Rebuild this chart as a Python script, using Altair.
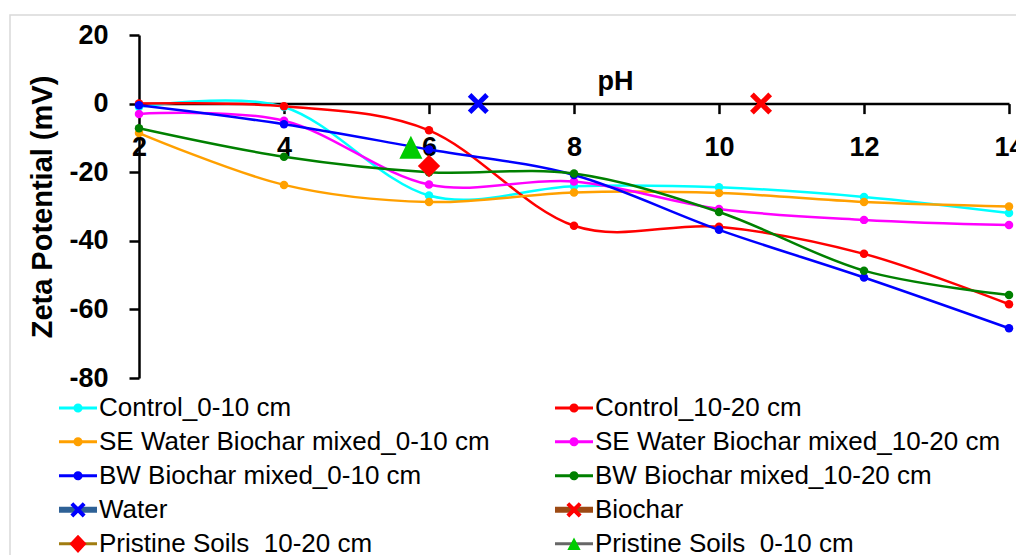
import altair as alt
import pandas as pd

# ---------------- data ----------------
ph = [2, 4, 6, 8, 10, 12, 14]
control_0_10 = [-1.0, -1.0, -26.8, -24.1, -24.4, -27.2, -31.9]
control_10_20 = [0.0, -0.8, -7.8, -35.6, -35.9, -43.8, -58.5]
se_0_10 = [-8.6, -23.7, -28.7, -25.9, -26.1, -28.7, -30.0]
se_10_20 = [-3.0, -5.0, -23.6, -22.7, -30.7, -33.9, -35.4]
bw_0_10 = [-0.5, -6.0, -13.4, -20.8, -36.8, -50.7, -65.5]
bw_10_20 = [-7.2, -15.5, -20.0, -20.4, -31.6, -48.7, -55.8]

series_names = [
    "Control_0-10 cm",
    "Control_10-20 cm",
    "SE Water Biochar mixed_0-10 cm",
    "SE Water Biochar mixed_10-20 cm",
    "BW Biochar mixed_0-10 cm",
    "BW Biochar mixed_10-20 cm",
]
series_colors = ["#00FFFF", "#FF0000", "#FFA000", "#FF00FF", "#0000FF", "#008000"]

water_ph = [6.68]
water_zeta = [0.0]
biochar_ph = [10.58]
biochar_zeta = [0.0]
pristine_10_20_ph = [6.0]
pristine_10_20_zeta = [-18.2]
pristine_0_10_ph = [5.75]
pristine_0_10_zeta = [-12.7]

# legend entries, listed column by column (left column first)
legend_names = [
    "Control_0-10 cm",
    "SE Water Biochar mixed_0-10 cm",
    "BW Biochar mixed_0-10 cm",
    "Water",
    "Pristine Soils_10-20 cm",
    "Control_10-20 cm",
    "SE Water Biochar mixed_10-20 cm",
    "BW Biochar mixed_10-20 cm",
    "Biochar",
    "Pristine Soils_0-10 cm",
]
legend_line_colors = ["#00FFFF", "#FFA000", "#0000FF", "#2E6196", "#A07C10",
                      "#FF0000", "#FF00FF", "#008000", "#9C4A14", "#676767"]
legend_line_widths = [3, 3, 3, 6, 3, 3, 3, 3, 6, 3]
legend_marker_colors = ["#00FFFF", "#FFA000", "#0000FF", "#0000FF", "#FF0000",
                        "#FF0000", "#FF00FF", "#008000", "#FF0000", "#00CC00"]
legend_marker_kinds = ["circle", "circle", "circle", "x", "diamond",
                       "circle", "circle", "circle", "x", "triangle"]

# ---------------- shapes ----------------
U = 19.0 / 18.0  # legend symbols: nominal 36 px box, drawn 38 px wide


def x_path(a, d):
    pts = [(-a, -a + d), (-a + d, -a), (0, -d), (a - d, -a), (a, -a + d), (d, 0),
           (a, a - d), (a - d, a), (0, d), (-a + d, a), (-a, a - d), (-d, 0)]
    return "M" + "L".join(f"{px:.3f},{py:.3f}" for px, py in pts) + "Z"


def circle_path(r):
    return f"M{-r:.3f},0A{r:.3f},{r:.3f} 0 1,0 {r:.3f},0A{r:.3f},{r:.3f} 0 1,0 {-r:.3f},0Z"


SPAN = f"M{-U:.4f},0L{U:.4f},0"
legend_shape_paths = {
    "circle": circle_path(0.24 * U),
    "x": x_path(0.40 * U, 0.15 * U),
    "diamond": f"M0,{-0.48 * U:.3f}L{0.45 * U:.3f},0L0,{0.48 * U:.3f}L{-0.45 * U:.3f},0Z",
    "triangle": f"M0,{-0.33 * U:.3f}L{0.35 * U:.3f},{0.33 * U:.3f}L{-0.35 * U:.3f},{0.33 * U:.3f}Z",
}
legend_marker_paths = [SPAN + legend_shape_paths[k] for k in legend_marker_kinds]

X_MARK = x_path(1.0, 0.34)
TRI_MARK = "M0,-1L1,1L-1,1Z"

FONT = "Liberation Sans"

# ---------------- tables ----------------
rows = []
for name, vals in zip(series_names, [control_0_10, control_10_20, se_0_10, se_10_20, bw_0_10, bw_10_20]):
    for p, v in zip(ph, vals):
        rows.append({"series": name, "ph": p, "zeta": v})
df = pd.DataFrame(rows)

legend_df = pd.DataFrame({"name": legend_names, "lname": [n + " " for n in legend_names]})

# ---------------- scales / axes ----------------
x_axis = alt.Axis(
    values=ph, orient="bottom", offset=-274.4, title="pH", grid=False,
    domainColor="black", domainWidth=2.5, tickColor="black", tickWidth=2.5, tickSize=10,
    labelFont=FONT, labelFontSize=27, labelFontWeight="bold", labelColor="black",
    labelPadding=21, labelFlush=False, labelOverlap=False,
    titleFont=FONT, titleFontSize=27, titleFontWeight="bold", titleColor="black",
    titleX=476, titleY=-14, titleAlign="center", titleBaseline="alphabetic",
)
y_axis = alt.Axis(
    values=[-80, -60, -40, -20, 0, 20], title="Zeta Potential (mV)", grid=False,
    domainColor="black", domainWidth=2.5, tickColor="black", tickWidth=2.5, tickSize=10,
    labelFont=FONT, labelFontSize=27, labelFontWeight="bold", labelColor="black",
    labelPadding=21, labelFlush=False, labelOverlap=False, labelExpr="'' + datum.value",
    titleFont=FONT, titleFontSize=29, titleFontWeight="bold", titleColor="black",
    titlePadding=11,
)
X = alt.X("ph:Q", scale=alt.Scale(domain=[2, 14], nice=False, zero=False), axis=x_axis)
Y = alt.Y("zeta:Q", scale=alt.Scale(domain=[-80, 20], nice=False, zero=False), axis=y_axis)
color = alt.Color("series:N", scale=alt.Scale(domain=series_names, range=series_colors), legend=None)

legend_common = dict(
    orient="none", legendX=-82, legendY=356, columns=2, columnPadding=63, rowPadding=0,
    clipHeight=33.6, symbolSize=1296, symbolOffset=0, labelFont=FONT, labelFontSize=26,
    labelColor="black", labelLimit=700, labelOffset=0, title=None, padding=0,
)

# ---------------- layers ----------------
border = alt.Chart(alt.Data(values=[{"k": 1}])).mark_rect(
    fillOpacity=0, stroke="#D9D9D9", strokeWidth=1.5
).encode(x=alt.value(-129), x2=alt.value(900), y=alt.value(-20), y2=alt.value(560))

lines = alt.Chart(df).mark_line(interpolate="cardinal", strokeWidth=2.5).encode(x=X, y=Y, color=color)
points = alt.Chart(df).mark_circle(size=72, opacity=1).encode(x=X, y=Y, color=color)

water = alt.Chart(pd.DataFrame({"ph": water_ph, "zeta": water_zeta})).mark_point(
    shape=X_MARK, filled=True, size=441, color="#0000FF", opacity=1, strokeWidth=0
).encode(x=X, y=Y)
biochar = alt.Chart(pd.DataFrame({"ph": biochar_ph, "zeta": biochar_zeta})).mark_point(
    shape=X_MARK, filled=True, size=484, color="#FF0000", opacity=1, strokeWidth=0
).encode(x=X, y=Y)
pristine_a = alt.Chart(pd.DataFrame({"ph": pristine_10_20_ph, "zeta": pristine_10_20_zeta})).mark_point(
    shape="diamond", filled=True, size=500, color="#FF0000", opacity=1, strokeWidth=0
).encode(x=X, y=Y)
pristine_b = alt.Chart(pd.DataFrame({"ph": pristine_0_10_ph, "zeta": pristine_0_10_zeta})).mark_point(
    shape=TRI_MARK, filled=True, size=529, color="#00CC00", opacity=1, strokeWidth=0
).encode(x=X, y=Y)

legend_a_props = dict(legend_common, labelOpacity=0, labelExpr="trim(datum.label)")
legend_b_props = dict(legend_common, symbolStrokeColor="transparent", symbolStrokeWidth=6)
leg_lines = alt.Chart(legend_df).transform_filter("false").mark_point(
    shape=SPAN, filled=False, opacity=1
).encode(
    stroke=alt.Stroke("lname:N", scale=alt.Scale(domain=list(legend_df["lname"]), range=legend_line_colors),
                      legend=alt.Legend(**legend_a_props)),
    strokeWidth=alt.StrokeWidth("lname:N", scale=alt.Scale(type="ordinal", domain=list(legend_df["lname"]),
                                                           range=legend_line_widths),
                                legend=alt.Legend(**legend_a_props)),
)
leg_marks = alt.Chart(legend_df).transform_filter("false").mark_point(
    filled=True, opacity=1
).encode(
    fill=alt.Fill("name:N", scale=alt.Scale(domain=legend_names, range=legend_marker_colors),
                  legend=alt.Legend(**legend_b_props)),
    shape=alt.Shape("name:N", scale=alt.Scale(domain=legend_names, range=legend_marker_paths),
                    legend=alt.Legend(**legend_b_props)),
)

chart = alt.layer(
    border, lines, points, water, biochar, pristine_a, pristine_b, leg_lines, leg_marks
).properties(
    width=870, height=343,
    autosize=alt.AutoSizeParams(type="none"),
    padding={"left": 131, "top": 27, "right": 7, "bottom": 190},
    background="white",
).configure_view(stroke=None)

chart.save("out.html", embed_options={"renderer": "svg", "actions": False})
